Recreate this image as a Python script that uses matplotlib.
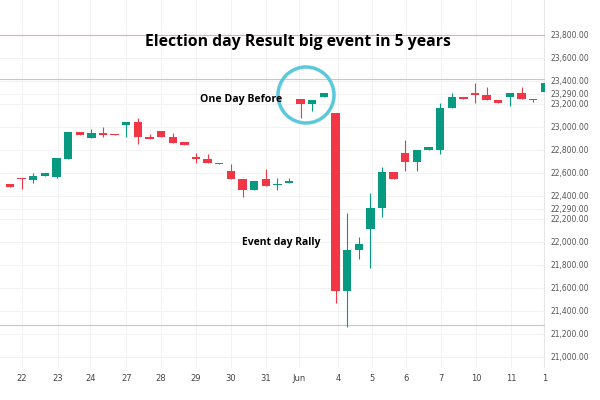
import matplotlib
matplotlib.use("Agg")
import matplotlib.pyplot as plt
from matplotlib.patches import Ellipse

opens  = [22504,22557,22539,22574,22565,22722,22957,22904,22948,22939,23017,23043,22913,22965,22913,22870,22739,22722,22687,22617,22548,22452,22548,22496,22513,
          23243,23200,23261,23122,21574,21930,22113,22296,22609,22774,22696,22800,22800,23165,23261,23296,23278,23235,23261,23296,23243,23304]
highs  = [22504,22557,22600,22600,22730,22957,22957,22983,23000,22939,23043,23078,22939,22965,22948,22870,22774,22765,22687,22678,22548,22530,22635,22557,22557,
          23243,23235,23296,23122,22252,22043,22426,22652,22609,22887,22800,22826,23209,23296,23261,23383,23348,23235,23296,23348,23243,23383]
lows   = [22478,22461,22513,22574,22557,22722,22930,22904,22913,22930,22913,22852,22896,22913,22861,22843,22687,22687,22678,22548,22391,22452,22487,22452,22513,
          23078,23139,23261,21470,21261,21852,21774,22217,22548,22617,22617,22800,22765,23165,23243,23209,23235,23209,23183,23243,23217,23304]
closes = [22478,22548,22574,22600,22730,22957,22930,22948,22930,22930,23043,22913,22896,22913,22861,22843,22722,22687,22678,22548,22452,22530,22487,22504,22530,
          23200,23235,23296,21574,21930,21983,22296,22609,22548,22696,22800,22826,23165,23261,23243,23278,23235,23209,23296,23243,23235,23383]
xtick_pos = [1, 4.1, 6.9, 10, 12.96, 16, 18.97, 22, 24.9, 28.2, 31.1, 34.1, 37.1, 40.1, 43.1, 46]
xtick_labels = ["22","23","24","27","28","29","30","31","Jun","4","5","6","7","10","11","1"]
ytick_vals = [21000,21200,21400,21600,21800,22000,22200,22290,22400,22600,22800,23000,23200,23290,23400,23600,23800]

UP, DOWN = "#089981", "#F23645"
fig = plt.figure(figsize=(6, 4), dpi=100)
ax = fig.add_axes([0, 0.08, 0.908, 0.92])
ax.set_xlim(-0.86, 45.92)
ax.set_ylim(20904, 24104)

for i, (o, h, l, c) in enumerate(zip(opens, highs, lows, closes)):
    col = UP if c >= o else DOWN
    ax.vlines(i, l, h, color=col, lw=0.8, zorder=3)
    ax.bar(i, abs(c - o) if abs(c - o) > 8 else 8, bottom=min(o, c), width=0.72, color=col, zorder=4)

ax.set_yticks(ytick_vals)
ax.yaxis.tick_right()
ax.set_yticklabels([f"{v:,.2f}" for v in ytick_vals], fontsize=5.5, color="#555555")
ax.set_xticks(xtick_pos)
ax.set_xticklabels(xtick_labels, fontsize=6, color="#444444")
ax.tick_params(length=0, pad=4)
ax.grid(True, color="#f0f0f0", lw=0.6)
for s in ax.spines.values():
    s.set_visible(False)
ax.axvline(45.92, color="#e6e6e6", lw=0.8)

ax.axhline(23800, color="#f2a5ad", lw=0.8, zorder=2)
ax.axhline(23420, color="#c8c8c8", lw=0.8, zorder=2)
ax.axhline(21280, color="#c8c8c8", lw=0.8, zorder=2)

fig.text(0.497, 0.895, "Election day Result big event in 5 years", ha="center", va="center",
         fontsize=11.3, fontweight="bold", family="Open Sans")
fig.text(0.402, 0.752, "One Day Before", ha="center", va="center", fontsize=7.6, fontweight="bold", family="Open Sans")
fig.text(0.468, 0.395, "Event day Rally", ha="center", va="center", fontsize=7.5, fontweight="bold", family="Open Sans")
fig.add_artist(Ellipse((306/600, 1 - 95/400), 56/600, 56/400, transform=fig.transFigure,
                       fill=False, ec="#5bc8dc", lw=2.5))
fig.savefig("out.png", dpi=100, facecolor="white")
